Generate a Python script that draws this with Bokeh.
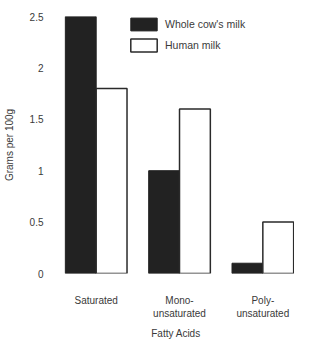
from bokeh.plotting import figure
from bokeh.models import (ColumnDataSource, Range1d, FixedTicker, Legend, LegendItem,
                          CustomJSTickFormatter)
from bokeh.transform import dodge
from bokeh.embed import file_html
from bokeh.resources import INLINE

categories = ["Saturated", "Mono-\nunsaturated", "Poly-\nunsaturated"]
cow_milk = [2.5, 1.0, 0.1]
human_milk = [1.8, 1.6, 0.5]
y_ticks = [0, 0.5, 1, 1.5, 2, 2.5]

xs = list(range(len(categories)))
src = ColumnDataSource(dict(x=xs, cow=cow_milk, human=human_milk))

FONT = "Liberation Sans"
TXT = "#3a3a3a"

p = figure(width=294, height=341, output_backend="svg", toolbar_location=None,
           x_range=Range1d(-0.4643, 2.38), y_range=Range1d(0, 2.5),
           min_border_left=56, min_border_right=0, min_border_top=16, min_border_bottom=67)
p.outline_line_color = None
p.xgrid.visible = False
p.ygrid.visible = False
p.background_fill_color = "white"
p.border_fill_color = "white"

bw = 0.37
r_cow = p.vbar(x=dodge("x", -bw / 2, range=p.x_range), top="cow", width=bw, bottom=0,
               source=src, fill_color="#222222", line_color="#222222", line_width=1)
r_hum = p.vbar(x=dodge("x", bw / 2, range=p.x_range), top="human", width=bw, bottom=0,
               source=src, fill_color="white", line_color="#2a2a2a", line_width=1.5)

# x axis
xa = p.xaxis[0]
xa.ticker = FixedTicker(ticks=xs)
xa.major_label_overrides = {i: c for i, c in zip(xs, categories)}
xa.axis_line_color = None
xa.major_tick_line_color = None
xa.minor_tick_line_color = None
xa.major_label_standoff = 15
xa.major_label_text_font = FONT
xa.major_label_text_font_size = "10px"
xa.major_label_text_color = TXT
xa.axis_label = "Fatty Acids"
xa.axis_label_text_font = FONT
xa.axis_label_text_font_size = "10px"
xa.axis_label_text_font_style = "normal"
xa.axis_label_text_color = TXT
xa.axis_label_standoff = 6

# y axis
ya = p.yaxis[0]
ya.ticker = FixedTicker(ticks=y_ticks)
ya.formatter = CustomJSTickFormatter(code="return tick.toString();")
ya.axis_line_color = None
ya.major_tick_line_color = None
ya.minor_tick_line_color = None
ya.major_label_standoff = 8
ya.major_label_text_font = FONT
ya.major_label_text_font_size = "10px"
ya.major_label_text_color = TXT
ya.axis_label = "Grams per 100g"
ya.axis_label_text_font = FONT
ya.axis_label_text_font_size = "10px"
ya.axis_label_text_font_style = "normal"
ya.axis_label_text_color = TXT
ya.axis_label_standoff = 12

legend = Legend(items=[LegendItem(label="Whole cow's milk", renderers=[r_cow]),
                       LegendItem(label="Human milk", renderers=[r_hum])],
                location=(70, 220), orientation="vertical",
                glyph_width=33, glyph_height=16, label_height=16, label_standoff=5,
                spacing=5, padding=0, margin=0,
                border_line_color=None, background_fill_alpha=0,
                label_text_font=FONT, label_text_font_size="10.5px", label_text_color=TXT)
p.add_layout(legend)

open("out.html", "w").write(file_html(p, INLINE))
